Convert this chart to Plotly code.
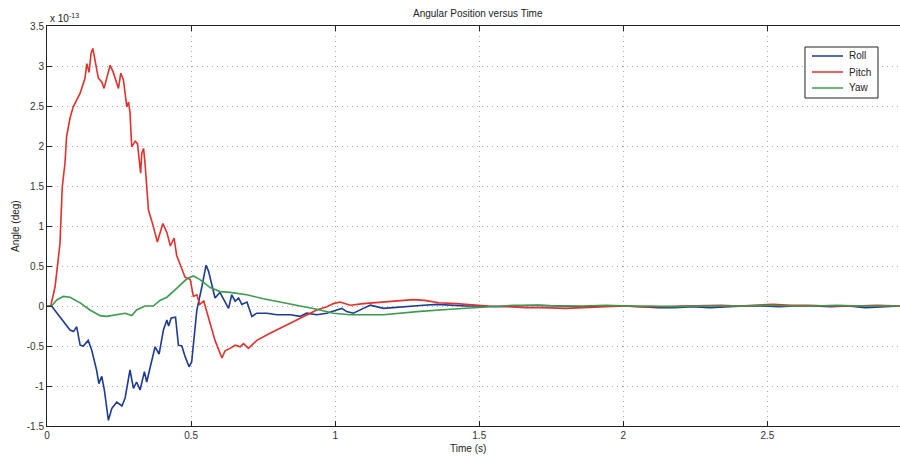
import plotly.graph_objects as go

# Values in units of 1e-13 deg
roll_t = [0, 0.016, 0.039, 0.0625, 0.08, 0.092, 0.103, 0.115, 0.126, 0.143, 0.155, 0.172, 0.18, 0.19, 0.199,
          0.213, 0.225, 0.242, 0.26, 0.271, 0.288, 0.30, 0.311, 0.323, 0.338, 0.346, 0.366, 0.375, 0.389,
          0.404, 0.416, 0.422, 0.431, 0.446, 0.456, 0.468, 0.479, 0.493, 0.502, 0.52, 0.538, 0.552, 0.561,
          0.583, 0.60, 0.614, 0.63, 0.641, 0.653, 0.665, 0.676, 0.694, 0.711, 0.728, 0.763, 0.798, 0.844,
          0.878, 0.901, 0.936, 0.971, 1.006, 1.023, 1.04, 1.063, 1.098, 1.122, 1.168, 1.226, 1.307, 1.354,
          1.40, 1.45, 1.50, 1.56, 1.62, 1.70, 1.78, 1.86, 1.93, 2.00, 2.06, 2.12, 2.18, 2.24, 2.30, 2.36,
          2.42, 2.48, 2.54, 2.60, 2.66, 2.72, 2.78, 2.84, 2.90, 2.96]
roll_v = [0, 0, -0.11, -0.22, -0.30, -0.32, -0.26, -0.49, -0.50, -0.43, -0.55, -0.80, -0.97, -0.88, -1.05,
          -1.43, -1.28, -1.20, -1.25, -1.15, -0.80, -1.03, -0.95, -1.05, -0.82, -0.95, -0.63, -0.51, -0.60,
          -0.30, -0.175, -0.25, -0.15, -0.14, -0.49, -0.50, -0.63, -0.76, -0.70, -0.05, 0.25, 0.51, 0.43,
          0.10, 0.17, 0.08, -0.03, 0.14, 0.06, 0.10, 0.02, 0.05, -0.13, -0.09, -0.09, -0.11, -0.11,
          -0.13, -0.09, -0.11, -0.09, -0.05, -0.03, -0.07, -0.09, -0.03, 0.01, -0.03, -0.01, 0.01, 0.02,
          0.01, 0.0, 0.0, -0.01, 0.0, 0.01, 0.0, -0.01, 0.0, 0.0, -0.01, -0.02, -0.02, -0.01, -0.02, -0.01,
          0.0, 0.0, -0.01, 0.0, 0.0, -0.01, 0.0, -0.02, -0.01, 0.0]

pitch_t = [0, 0.013, 0.028, 0.045, 0.053, 0.0625, 0.068, 0.08, 0.091, 0.115, 0.132, 0.138, 0.146, 0.153,
           0.159, 0.167, 0.178, 0.19, 0.198, 0.219, 0.23, 0.248, 0.256, 0.265, 0.277, 0.283, 0.288, 0.294,
           0.306, 0.314, 0.325, 0.329, 0.335, 0.34, 0.345, 0.352, 0.367, 0.383, 0.402, 0.416, 0.428, 0.441,
           0.45, 0.468, 0.479, 0.497, 0.508, 0.52, 0.53, 0.544, 0.56, 0.583, 0.607, 0.618, 0.635, 0.653,
           0.67, 0.682, 0.699, 0.728, 0.774, 0.82, 0.867, 0.902, 0.936, 0.971, 0.994, 1.017, 1.052, 1.098,
           1.168, 1.22, 1.27, 1.31, 1.36, 1.42, 1.48, 1.53, 1.60, 1.66, 1.72, 1.80, 1.86, 1.92, 2.00, 2.06,
           2.12, 2.20, 2.28, 2.34, 2.40, 2.46, 2.52, 2.58, 2.64, 2.72, 2.80, 2.88, 2.96]
pitch_v = [0, 0.0, 0.24, 0.78, 1.49, 1.79, 2.12, 2.35, 2.49, 2.66, 2.85, 3.03, 2.92, 3.16,
           3.22, 3.07, 2.85, 2.80, 2.72, 3.01, 2.92, 2.72, 2.91, 2.83, 2.49, 2.55, 2.42, 1.99,
           2.06, 2.03, 1.66, 1.91, 1.97, 1.79, 1.55, 1.20, 1.02, 0.80, 1.03, 0.92, 0.75, 0.85,
           0.63, 0.45, 0.36, 0.33, 0.12, 0.14, 0.02, 0.06, -0.13, -0.43, -0.65, -0.56, -0.53, -0.49,
           -0.51, -0.47, -0.53, -0.43, -0.34, -0.26, -0.18, -0.11, -0.05, -0.01, 0.03, 0.05, 0.01, 0.03,
           0.05, 0.06, 0.08, 0.07, 0.04, 0.03, 0.01, 0.0, -0.01, -0.02, -0.02, -0.03, -0.02, -0.01, 0.0, -0.01,
           -0.01, 0.0, 0.01, 0.01, 0.0, 0.01, 0.02, 0.01, 0.01, 0.0, 0.0, 0.01, 0.0]

yaw_t = [0, 0.016, 0.034, 0.057, 0.08, 0.115, 0.149, 0.184, 0.207, 0.242, 0.271, 0.294, 0.311, 0.34,
         0.369, 0.392, 0.416, 0.45, 0.485, 0.508, 0.531, 0.566, 0.601, 0.636, 0.693, 0.751, 0.809, 0.878,
         0.936, 0.994, 1.052, 1.168, 1.284, 1.40, 1.49, 1.55, 1.62, 1.70, 1.78, 1.86, 1.94, 2.02, 2.10,
         2.18, 2.26, 2.34, 2.42, 2.50, 2.58, 2.66, 2.74, 2.82, 2.90, 2.96]
yaw_v = [0, 0, 0.075, 0.12, 0.11, 0.04, -0.05, -0.12, -0.13, -0.11, -0.09, -0.12, -0.05, 0.0,
         0.0, 0.07, 0.11, 0.22, 0.34, 0.375, 0.33, 0.23, 0.18, 0.17, 0.14, 0.09, 0.05, 0.0,
         -0.04, -0.09, -0.11, -0.11, -0.07, -0.04, -0.02, 0.0, 0.01, 0.01, 0.0, 0.0, 0.01, 0.0, 0.0,
         -0.01, 0.0, 0.0, 0.0, 0.01, 0.0, 0.0, 0.01, 0.0, 0.0, 0.0]

series_names = ["Roll", "Pitch", "Yaw"]
series_colors = ["#1c3b94", "#e2302c", "#3c9c4c"]

x_ticks = [0, 0.5, 1, 1.5, 2, 2.5]
x_labels = ["0", "0.5", "1", "1.5", "2", "2.5"]
y_ticks = [-1.5, -1, -0.5, 0, 0.5, 1, 1.5, 2, 2.5, 3, 3.5]
y_labels = ["-1.5", "-1", "-0.5", "0", "0.5", "1", "1.5", "2", "2.5", "3", "3.5"]

FONT = "Liberation Sans, Arial, sans-serif"

fig = go.Figure()
for name, color, t, v in zip(series_names, series_colors,
                             [roll_t, pitch_t, yaw_t], [roll_v, pitch_v, yaw_v]):
    fig.add_trace(go.Scatter(x=t, y=v, mode="lines", name=name,
                             line=dict(color=color, width=1.6)))

# MATLAB-style compact legend box (drawn in paper coordinates)
shapes = [dict(type="rect", xref="paper", yref="paper",
               x0=0.8886, x1=0.9742, y0=0.82, y1=0.9475,
               line=dict(color="#222", width=1), fillcolor="white", layer="above")]
annotations = []
for i, (name, color) in enumerate(zip(series_names, series_colors)):
    yy = 0.925 - i * 0.04
    shapes.append(dict(type="line", xref="paper", yref="paper",
                       x0=0.8968, x1=0.9332, y0=yy, y1=yy,
                       line=dict(color=color, width=1.6), layer="above"))
    annotations.append(dict(text=name, xref="paper", yref="paper", x=0.9379, y=yy,
                            xanchor="left", yanchor="middle", showarrow=False,
                            font=dict(size=10, color="#222")))

annotations += [
    dict(text="Angular Position versus Time", xref="paper", yref="paper",
         x=0.505, y=1.0, yanchor="bottom", yshift=5, showarrow=False,
         font=dict(size=10, color="#222")),
    dict(text="Time (s)", xref="paper", yref="paper", x=0.4936, y=-0.055,
         yanchor="middle", showarrow=False, font=dict(size=10, color="#222")),
    dict(text="Angle (deg)", xref="paper", yref="paper", x=-0.0375, y=0.5,
         xanchor="center", yanchor="middle", textangle=-90, showarrow=False,
         font=dict(size=10, color="#222")),
    dict(text="x 10<sup>-13</sup>", xref="paper", yref="paper", x=0.0, y=1.0,
         xanchor="left", yanchor="bottom", xshift=1, yshift=0, showarrow=False,
         font=dict(size=10, color="#222")),
]

fig.update_layout(
    width=900, height=463,
    margin=dict(l=47, r=0, t=26, b=37),
    paper_bgcolor="white", plot_bgcolor="white",
    font=dict(family=FONT, size=10, color="#333"),
    showlegend=False,
    xaxis=dict(range=[0, 2.96], tickvals=x_ticks, ticktext=x_labels,
               showgrid=True, gridcolor="#a8a8a8", griddash="1px,4px", gridwidth=1,
               showline=True, linecolor="#222", linewidth=1, mirror="ticks",
               ticks="inside", ticklen=5, tickcolor="#222",
               zeroline=False, tickfont=dict(size=10, color="#333")),
    yaxis=dict(range=[-1.5, 3.5], tickvals=y_ticks, ticktext=y_labels,
               showgrid=True, gridcolor="#a8a8a8", griddash="1px,4px", gridwidth=1,
               showline=True, linecolor="#222", linewidth=1, mirror=False,
               ticks="inside", ticklen=5, tickcolor="#222",
               zeroline=False, tickfont=dict(size=10, color="#333")),
    shapes=shapes,
    annotations=annotations,
)

fig.write_html("out.html")
